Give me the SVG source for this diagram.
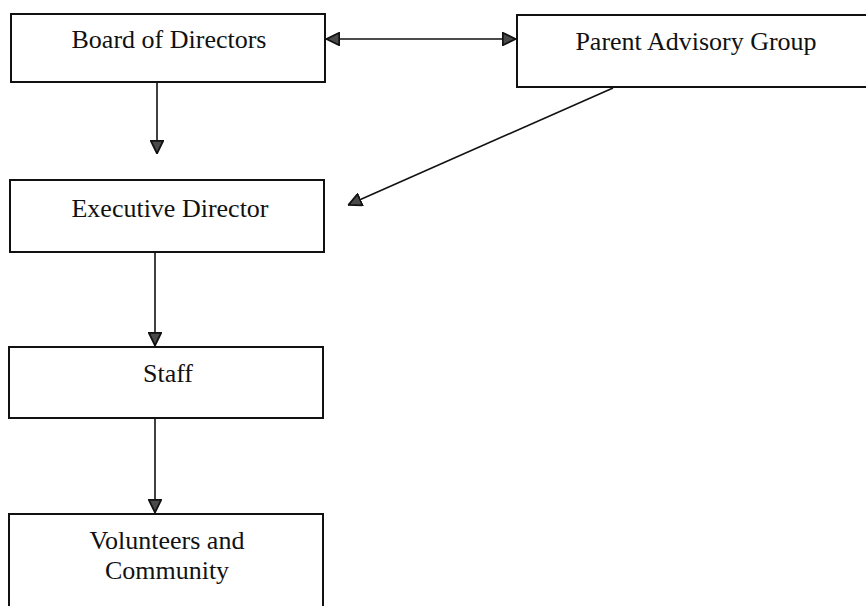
<svg xmlns="http://www.w3.org/2000/svg" width="866" height="606" viewBox="0 0 866 606">
<defs>
<style>
.box{fill:#fff;stroke:#111;stroke-width:2}
.lbl{font-family:"Liberation Serif","Times New Roman",serif;font-size:26px;fill:#111;text-anchor:middle}
.conn{stroke:#111;stroke-width:1.6;fill:none}
</style>
<marker id="ah" viewBox="0 0 14 14" refX="14" refY="7" markerWidth="14" markerHeight="14" markerUnits="userSpaceOnUse" orient="auto-start-reverse">
<path d="M0.8,0.8 L13.5,7 L0.8,13.2 Z" fill="#4a4a4a" stroke="#111" stroke-width="1.8" stroke-linejoin="miter"/>
</marker>
</defs>
<rect width="866" height="606" fill="#fff"/>
<g id="board">
<rect class="box" x="11" y="14" width="314" height="68"/>
<text class="lbl" x="169" y="48">Board of Directors</text>
</g>
<g id="parent">
<rect class="box" x="517" y="15" width="380" height="72"/>
<text class="lbl" x="696" y="50">Parent Advisory Group</text>
</g>
<g id="executive">
<rect class="box" x="10" y="180" width="314" height="72"/>
<text class="lbl" x="170" y="217">Executive Director</text>
</g>
<g id="staff">
<rect class="box" x="9" y="347" width="314" height="71"/>
<text class="lbl" x="168" y="382">Staff</text>
</g>
<g id="volunteers">
<rect class="box" x="9" y="514" width="314" height="110"/>
<text class="lbl" x="167" y="549">Volunteers and</text>
<text class="lbl" x="167" y="579">Community</text>
</g>
<g id="connectors">
<line class="conn" x1="326" y1="39" x2="516" y2="39" marker-start="url(#ah)" marker-end="url(#ah)"/>
<line class="conn" x1="157" y1="83" x2="157" y2="154" marker-end="url(#ah)"/>
<line class="conn" x1="613" y1="88" x2="348" y2="205" marker-end="url(#ah)"/>
<line class="conn" x1="155" y1="253" x2="155" y2="346" marker-end="url(#ah)"/>
<line class="conn" x1="155" y1="419" x2="155" y2="513" marker-end="url(#ah)"/>
</g>
</svg>
